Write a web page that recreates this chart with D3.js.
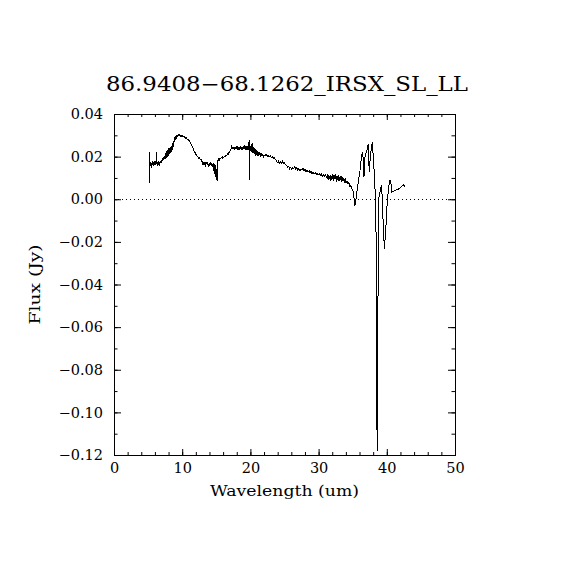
<!DOCTYPE html>
<html>
<head>
<meta charset="utf-8">
<script src="https://cdn.jsdelivr.net/npm/d3@7"></script>
<style>
  body { margin: 0; background: #fff; }
  svg { display: block; }
  text { font-family: "DejaVu Serif", serif; fill: #000; }
</style>
</head>
<body>
<svg width="570" height="570"></svg>
<script>
const title = "86.9408\u221268.1262_IRSX_SL_LL";
const xLabel = "Wavelength (um)";
const yLabel = "Flux (Jy)";

const xDomain = [0, 50];
const yDomain = [-0.12, 0.04];
const xMajor = [0, 10, 20, 30, 40, 50];
const yMajor = [-0.12, -0.10, -0.08, -0.06, -0.04, -0.02, 0.00, 0.02, 0.04];

// [wavelength (um), flux (Jy)]
const slShort = [
  [5.18, 0.0222], [5.20, 0.0074], [5.22, 0.0168], [5.30, 0.0160], [5.38, 0.0175],
  [5.45, 0.0145], [5.52, 0.0170], [5.60, 0.0162], [5.68, 0.0178], [5.76, 0.0158],
  [5.84, 0.0172], [5.92, 0.0166], [6.00, 0.0181], [6.08, 0.0160], [6.16, 0.0174],
  [6.24, 0.0222], [6.28, 0.0165], [6.36, 0.0176], [6.44, 0.0158], [6.52, 0.0180],
  [6.60, 0.0162], [6.68, 0.0155], [6.76, 0.0178], [6.84, 0.0170], [6.92, 0.0186],
  [7.00, 0.0172], [7.08, 0.0195], [7.16, 0.0180], [7.24, 0.0198], [7.32, 0.0183],
  [7.40, 0.0205], [7.46, 0.0188], [7.52, 0.0215], [7.58, 0.0190], [7.64, 0.0222],
  [7.70, 0.0195], [7.76, 0.0228], [7.82, 0.0200], [7.88, 0.0232], [7.94, 0.0205],
  [8.00, 0.0238], [8.06, 0.0210], [8.12, 0.0240], [8.18, 0.0212], [8.24, 0.0245],
  [8.30, 0.0218], [8.36, 0.0248], [8.42, 0.0222], [8.48, 0.0250], [8.54, 0.0230],
  [8.60, 0.0262], [8.66, 0.0245], [8.72, 0.0275], [8.80, 0.0268], [8.88, 0.0285],
  [8.96, 0.0280], [9.05, 0.0292], [9.15, 0.0288], [9.25, 0.0300], [9.35, 0.0296],
  [9.45, 0.0303], [9.55, 0.0298], [9.65, 0.0302], [9.75, 0.0296], [9.85, 0.0300],
  [9.95, 0.0294], [10.05, 0.0299], [10.15, 0.0292], [10.25, 0.0296], [10.35, 0.0289],
  [10.45, 0.0291], [10.55, 0.0284], [10.65, 0.0288], [10.75, 0.0280], [10.85, 0.0283],
  [10.95, 0.0276], [11.05, 0.0277], [11.15, 0.0268], [11.25, 0.0264], [11.35, 0.0256],
  [11.45, 0.0250], [11.55, 0.0241], [11.65, 0.0236], [11.75, 0.0226], [11.85, 0.0222],
  [11.95, 0.0213], [12.05, 0.0210], [12.15, 0.0203], [12.25, 0.0200], [12.35, 0.0198],
  [12.45, 0.0192], [12.55, 0.0196], [12.65, 0.0186], [12.75, 0.0188], [12.85, 0.0180],
  [12.95, 0.0175], [13.05, 0.0162], [13.15, 0.0172], [13.25, 0.0166], [13.35, 0.0175]
];

const slLong = [
  [13.45, 0.0160], [13.55, 0.0170], [13.65, 0.0163], [13.75, 0.0172], [13.85, 0.0158],
  [13.95, 0.0168], [14.05, 0.0160], [14.15, 0.0174], [14.25, 0.0155], [14.35, 0.0170],
  [14.45, 0.0150], [14.55, 0.0168], [14.62, 0.0135], [14.70, 0.0165], [14.76, 0.0120],
  [14.82, 0.0160], [14.88, 0.0105], [14.94, 0.0150], [15.00, 0.0092], [15.06, 0.0140],
  [15.12, 0.0088], [15.18, 0.0155], [15.25, 0.0182], [15.35, 0.0190], [15.45, 0.0186],
  [15.55, 0.0194], [15.65, 0.0190], [15.75, 0.0196], [15.85, 0.0192], [15.95, 0.0198],
  [16.05, 0.0195], [16.15, 0.0200], [16.25, 0.0203], [16.35, 0.0200], [16.45, 0.0208],
  [16.55, 0.0206], [16.65, 0.0212], [16.75, 0.0210], [16.85, 0.0218], [16.95, 0.0222],
  [17.05, 0.0228], [17.15, 0.0236], [17.25, 0.0248], [17.35, 0.0242], [17.45, 0.0238],
  [17.55, 0.0244], [17.65, 0.0236], [17.75, 0.0246], [17.85, 0.0238], [17.95, 0.0245],
  [18.05, 0.0235], [18.15, 0.0247], [18.25, 0.0237], [18.35, 0.0244], [18.45, 0.0234],
  [18.55, 0.0248], [18.65, 0.0236], [18.75, 0.0245], [18.85, 0.0233], [18.95, 0.0250],
  [19.05, 0.0235], [19.15, 0.0246], [19.25, 0.0232], [19.35, 0.0248], [19.45, 0.0236],
  [19.55, 0.0244], [19.65, 0.0230], [19.75, 0.0242], [19.82, 0.0278], [19.86, 0.0090],
  [19.90, 0.0238], [20.00, 0.0226], [20.08, 0.0250], [20.16, 0.0222], [20.24, 0.0262],
  [20.32, 0.0218], [20.40, 0.0245], [20.48, 0.0215], [20.56, 0.0240], [20.64, 0.0212],
  [20.72, 0.0236], [20.80, 0.0205], [20.88, 0.0232], [20.96, 0.0210], [21.04, 0.0228],
  [21.12, 0.0202], [21.20, 0.0222], [21.30, 0.0210], [21.40, 0.0220], [21.50, 0.0205]
];

const llLong = [
  [21.60, 0.0212], [21.70, 0.0202], [21.80, 0.0210], [21.90, 0.0200], [22.00, 0.0208],
  [22.15, 0.0203], [22.30, 0.0212], [22.45, 0.0200], [22.60, 0.0207], [22.75, 0.0198],
  [22.90, 0.0204], [23.05, 0.0196], [23.20, 0.0200], [23.35, 0.0192], [23.50, 0.0196],
  [23.65, 0.0186], [23.80, 0.0182], [23.95, 0.0172], [24.10, 0.0178], [24.25, 0.0168],
  [24.40, 0.0176], [24.55, 0.0170], [24.70, 0.0178], [24.85, 0.0168], [25.00, 0.0172],
  [25.15, 0.0162], [25.30, 0.0158], [25.45, 0.0150], [25.60, 0.0154], [25.75, 0.0143],
  [25.90, 0.0150], [26.05, 0.0140], [26.20, 0.0148], [26.35, 0.0144], [26.50, 0.0152],
  [26.65, 0.0141], [26.80, 0.0147], [26.95, 0.0137], [27.10, 0.0145], [27.25, 0.0134],
  [27.40, 0.0142], [27.55, 0.0138], [27.70, 0.0146], [27.85, 0.0132], [28.00, 0.0140],
  [28.15, 0.0130], [28.30, 0.0136], [28.45, 0.0128], [28.60, 0.0134], [28.75, 0.0124],
  [28.90, 0.0130], [29.05, 0.0120], [29.20, 0.0128], [29.35, 0.0118], [29.50, 0.0125],
  [29.65, 0.0116], [29.80, 0.0122], [29.95, 0.0114], [30.10, 0.0120], [30.25, 0.0112],
  [30.40, 0.0118], [30.55, 0.0108], [30.70, 0.0116], [30.85, 0.0106], [31.00, 0.0114],
  [31.15, 0.0104], [31.30, 0.0112], [31.40, 0.0090], [31.50, 0.0115], [31.60, 0.0095],
  [31.70, 0.0112], [31.80, 0.0088], [31.90, 0.0110], [32.00, 0.0096], [32.10, 0.0118],
  [32.20, 0.0085], [32.30, 0.0112], [32.40, 0.0094], [32.50, 0.0116], [32.60, 0.0082],
  [32.70, 0.0108], [32.80, 0.0090], [32.90, 0.0114], [33.00, 0.0084], [33.10, 0.0104],
  [33.20, 0.0092], [33.30, 0.0110], [33.40, 0.0080], [33.50, 0.0102], [33.60, 0.0088],
  [33.70, 0.0098], [33.80, 0.0084], [33.90, 0.0094], [34.00, 0.0078], [34.15, 0.0086],
  [34.30, 0.0072], [34.45, 0.0078], [34.60, 0.0060], [34.75, 0.0064], [34.90, 0.0048]
];

const llEdge = [
  [35.00, 0.0045], [35.15, 0.0020], [35.30, -0.0032], [35.50, 0.0005], [35.75, 0.0066],
  [36.05, 0.0128], [36.30, 0.0206], [36.48, 0.0222], [36.65, 0.0105], [36.82, 0.0206],
  [37.02, 0.0222], [37.28, 0.0258], [37.42, 0.0128], [37.60, 0.0206], [37.88, 0.0270],
  [38.15, 0.0128], [38.40, -0.0030], [38.58, -0.1180], [38.66, -0.0630], [38.85, 0.0010],
  [39.10, 0.0050], [39.25, 0.0066], [39.40, -0.0060], [39.65, -0.0235], [39.90, -0.0115],
  [40.07, -0.0010], [40.40, 0.0089], [40.58, 0.0086], [40.72, 0.0034], [41.00, 0.0038],
  [41.30, 0.0042], [41.60, 0.0046], [41.90, 0.0052], [42.20, 0.0060], [42.50, 0.0069],
  [42.67, 0.0058]
];

const spectrum = slShort.concat(slLong, llLong, llEdge);

const svg = d3.select("svg");
svg.append("rect").attr("width", 570).attr("height", 570).attr("fill", "#fff");

const x = d3.scaleLinear().domain(xDomain).range([114, 455]);
const y = d3.scaleLinear().domain(yDomain).range([455, 114]);

const xMinor = d3.range(xDomain[0], xDomain[1] + 0.001, 2);
const yMinor = d3.range(yDomain[0], yDomain[1] + 0.0001, 0.01);

function styleAxis(g) {
  g.select(".domain").remove();
  g.selectAll("line").attr("stroke", "#000");
  g.selectAll("text")
    .style("font-family", '"DejaVu Serif", serif')
    .style("font-size", "14.5px")
    .attr("fill", "#000");
}

// bottom
svg.append("g").attr("transform", `translate(0,${y(yDomain[0])})`)
  .call(d3.axisBottom(x).tickValues(xMinor).tickSize(-3).tickFormat(""))
  .call(styleAxis);
svg.append("g").attr("transform", `translate(0,${y(yDomain[0])})`)
  .call(d3.axisBottom(x).tickValues(xMajor).tickSize(-6).tickPadding(8).tickFormat(d3.format("d")))
  .call(styleAxis);
// top
svg.append("g").attr("transform", `translate(0,${y(yDomain[1])})`)
  .call(d3.axisTop(x).tickValues(xMinor).tickSize(-3).tickFormat(""))
  .call(styleAxis);
svg.append("g").attr("transform", `translate(0,${y(yDomain[1])})`)
  .call(d3.axisTop(x).tickValues(xMajor).tickSize(-6).tickFormat(""))
  .call(styleAxis);
// left
svg.append("g").attr("transform", `translate(${x(xDomain[0])},0)`)
  .call(d3.axisLeft(y).tickValues(yMinor).tickSize(-3.5).tickFormat(""))
  .call(styleAxis);
svg.append("g").attr("transform", `translate(${x(xDomain[0])},0)`)
  .call(d3.axisLeft(y).tickValues(yMajor).tickSize(-7).tickPadding(11).tickFormat(d3.format(".2f")))
  .call(styleAxis);
// right
svg.append("g").attr("transform", `translate(${x(xDomain[1])},0)`)
  .call(d3.axisRight(y).tickValues(yMinor).tickSize(-3.5).tickFormat(""))
  .call(styleAxis);
svg.append("g").attr("transform", `translate(${x(xDomain[1])},0)`)
  .call(d3.axisRight(y).tickValues(yMajor).tickSize(-7).tickFormat(""))
  .call(styleAxis);

// frame
svg.append("rect")
  .attr("x", x(xDomain[0]) + 0.5)
  .attr("y", y(yDomain[1]) + 0.5)
  .attr("width", x(xDomain[1]) - x(xDomain[0]))
  .attr("height", y(yDomain[0]) - y(yDomain[1]))
  .attr("fill", "none")
  .attr("stroke", "#000")
  .attr("shape-rendering", "crispEdges");

// zero line
svg.append("line")
  .attr("x1", x(xDomain[0])).attr("x2", x(xDomain[1]))
  .attr("y1", Math.round(y(0)) + 0.5).attr("y2", Math.round(y(0)) + 0.5)
  .attr("stroke", "#000")
  .attr("stroke-dasharray", "1,3");

// spectrum
const line = d3.line().x(d => x(d[0])).y(d => y(d[1]));
svg.append("path")
  .datum(spectrum)
  .attr("d", line)
  .attr("fill", "none")
  .attr("stroke", "#000")
  .attr("stroke-width", 1)
  .attr("shape-rendering", "crispEdges");

// titles
svg.append("text")
  .attr("x", 287).attr("y", 91)
  .attr("text-anchor", "middle")
  .attr("textLength", 362)
  .attr("lengthAdjust", "spacingAndGlyphs")
  .style("font-size", "20.5px")
  .text(title);

svg.append("text")
  .attr("x", 284.5).attr("y", 496)
  .attr("text-anchor", "middle")
  .attr("textLength", 149)
  .attr("lengthAdjust", "spacingAndGlyphs")
  .style("font-size", "15px")
  .text(xLabel);

svg.append("text")
  .attr("transform", "translate(40,284.5) rotate(-90)")
  .attr("text-anchor", "middle")
  .attr("textLength", 80)
  .attr("lengthAdjust", "spacingAndGlyphs")
  .style("font-size", "15px")
  .text(yLabel);
</script>
</body>
</html>
